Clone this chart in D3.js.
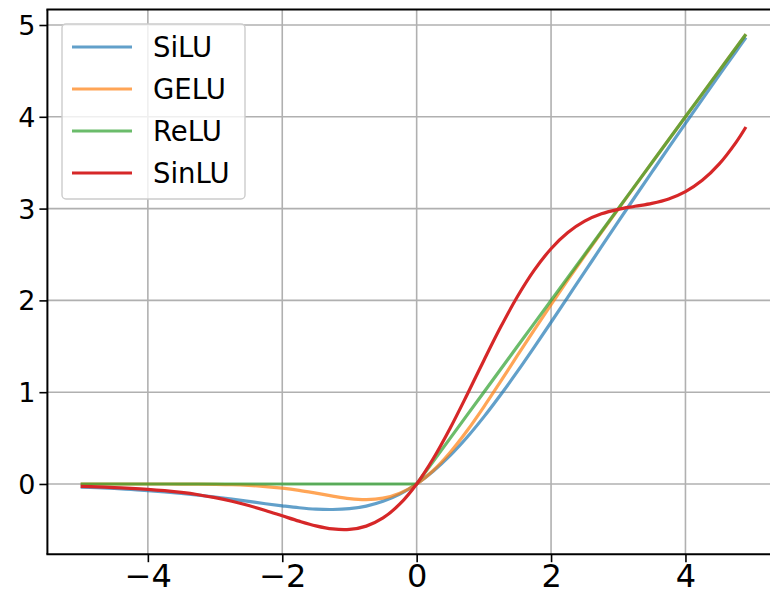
<!DOCTYPE html>
<html>
<head>
<meta charset="utf-8">
<script src="https://cdn.jsdelivr.net/npm/d3@7"></script>
<style>
  html, body { margin: 0; padding: 0; background: #ffffff; }
  svg { display: block; font-family: "DejaVu Sans", sans-serif; }
</style>
</head>
<body>
<svg id="chart" width="770" height="594"></svg>
<script>
// Sample positions along the input axis
const xs = [
  -5, -4.75, -4.5, -4.25, -4, -3.75, -3.5, -3.25, -3, -2.75, -2.5, -2.25, -2, -1.75,
  -1.5, -1.25, -1, -0.75, -0.5, -0.25, 0, 0.25, 0.5, 0.75, 1, 1.25, 1.5, 1.75, 2,
  2.25, 2.5, 2.75, 3, 3.25, 3.5, 3.75, 4, 4.25, 4.5, 4.75, 4.9
];

const silu = [
  -0.034, -0.041, -0.049, -0.060, -0.072, -0.086, -0.103, -0.121, -0.142, -0.165,
  -0.190, -0.215, -0.238, -0.259, -0.274, -0.278, -0.269, -0.241, -0.189, -0.110,
  0, 0.141, 0.311, 0.509, 0.731, 0.972, 1.226, 1.491, 1.762, 2.036, 2.310, 2.585,
  2.858, 3.129, 3.397, 3.664, 3.928, 4.190, 4.451, 4.709, 4.864
];

const gelu = [
  0, 0, 0, 0, -0.0001, -0.0003, -0.0008, -0.0019, -0.004, -0.008,
  -0.016, -0.028, -0.046, -0.070, -0.100, -0.132, -0.159, -0.170, -0.154, -0.100,
  0, 0.150, 0.346, 0.580, 0.841, 1.118, 1.400, 1.680, 1.955, 2.223, 2.485, 2.742,
  2.996, 3.248, 3.499, 3.750, 4.000, 4.250, 4.500, 4.750, 4.900
];

const relu = [
  0, 0, 0, 0, 0, 0, 0, 0, 0, 0, 0, 0, 0, 0, 0, 0, 0, 0, 0, 0,
  0, 0.25, 0.5, 0.75, 1, 1.25, 1.5, 1.75, 2, 2.25, 2.5, 2.75, 3, 3.25, 3.5, 3.75,
  4, 4.25, 4.5, 4.75, 4.9
];

const sinlu = [
  -0.027, -0.032, -0.039, -0.047, -0.058, -0.073, -0.092, -0.117, -0.149, -0.188,
  -0.235, -0.289, -0.347, -0.405, -0.456, -0.490, -0.495, -0.459, -0.370, -0.218,
  0, 0.280, 0.610, 0.972, 1.346, 1.709, 2.042, 2.329, 2.563, 2.739, 2.863, 2.943,
  2.992, 3.025, 3.057, 3.105, 3.185, 3.308, 3.484, 3.719, 3.889
];

const seriesNames = ["SiLU", "GELU", "ReLU", "SinLU"];
const seriesValues = [silu, gelu, relu, sinlu];
const seriesColors = ["#1f77b4", "#ff7f0e", "#2ca02c", "#d62728"];
const seriesOpacity = [0.7, 0.7, 0.7, 1];
const seriesSmooth = [true, true, false, true];

const xTicks = [-4, -2, 0, 2, 4];
const yTicks = [0, 1, 2, 3, 4, 5];

const svg = d3.select("#chart");
const plotLeft = 47.4, plotRight = 779.2, plotTop = 9.4, plotBottom = 554.2;

const x = d3.scaleLinear().domain([-5.495, 5.395]).range([plotLeft, plotRight]);
const y = d3.scaleLinear().domain([-0.765, 5.17]).range([plotBottom, plotTop]);

const fmt = d => (d < 0 ? "\u2212" + Math.abs(d) : String(d));

// grid
const grid = svg.append("g").attr("stroke", "#b0b0b0").attr("stroke-width", 1.6);
grid.selectAll("line.gx").data(xTicks).join("line").attr("class", "gx")
  .attr("x1", d => x(d)).attr("x2", d => x(d))
  .attr("y1", plotTop).attr("y2", plotBottom);
grid.selectAll("line.gy").data(yTicks).join("line").attr("class", "gy")
  .attr("x1", plotLeft).attr("x2", plotRight)
  .attr("y1", d => y(d)).attr("y2", d => y(d));

// curves
const lines = svg.append("g").attr("fill", "none").attr("stroke-width", 3.2)
  .attr("stroke-linejoin", "round").attr("stroke-linecap", "butt");
seriesValues.forEach((vals, i) => {
  const gen = d3.line()
    .x((d, j) => x(xs[j]))
    .y(d => y(d))
    .curve(seriesSmooth[i] ? d3.curveCatmullRom.alpha(0.5) : d3.curveLinear);
  lines.append("path")
    .attr("d", gen(vals))
    .attr("stroke", seriesColors[i])
    .attr("stroke-opacity", seriesOpacity[i]);
});

// axes
const xAxis = svg.append("g").attr("transform", `translate(0,${plotBottom})`)
  .call(d3.axisBottom(x).tickValues(xTicks).tickFormat(fmt).tickSize(8).tickPadding(4));
const yAxis = svg.append("g").attr("transform", `translate(${plotLeft},0)`)
  .call(d3.axisLeft(y).tickValues(yTicks).tickFormat(fmt).tickSize(8).tickPadding(4));

[xAxis, yAxis].forEach(a => {
  a.select(".domain").remove();
  a.selectAll(".tick line").attr("stroke", "#000").attr("stroke-width", 1.6);
  a.selectAll(".tick text").attr("fill", "#000").attr("font-family", "DejaVu Sans");
});
xAxis.selectAll(".tick text").attr("font-size", 32).attr("dy", null).attr("y", 33);
yAxis.selectAll(".tick text").attr("font-size", 27).attr("dy", "0.35em").attr("x", -12);

// spines (right edge falls outside the canvas)
const spines = svg.append("g").attr("stroke", "#000").attr("stroke-width", 2)
  .attr("fill", "none");
spines.append("line").attr("x1", plotLeft).attr("x2", plotLeft).attr("y1", plotTop).attr("y2", plotBottom);
spines.append("line").attr("x1", plotLeft - 1).attr("x2", plotRight).attr("y1", plotBottom).attr("y2", plotBottom);
spines.append("line").attr("x1", plotLeft - 1).attr("x2", plotRight).attr("y1", plotTop).attr("y2", plotTop);
spines.append("line").attr("x1", plotRight).attr("x2", plotRight).attr("y1", plotTop).attr("y2", plotBottom);

// legend
const legend = svg.append("g");
legend.append("rect")
  .attr("x", 62).attr("y", 24).attr("width", 183).attr("height", 175)
  .attr("rx", 4).attr("fill", "#ffffff").attr("fill-opacity", 0.8)
  .attr("stroke", "#cccccc").attr("stroke-width", 1.4);
seriesNames.forEach((name, i) => {
  const ly = 47 + i * 42;
  legend.append("line")
    .attr("x1", 72).attr("x2", 132).attr("y1", ly).attr("y2", ly)
    .attr("stroke", seriesColors[i]).attr("stroke-opacity", seriesOpacity[i])
    .attr("stroke-width", 3.2);
  legend.append("text")
    .attr("x", 153).attr("y", ly).attr("dy", "0.36em")
    .attr("font-size", 27.5).attr("fill", "#000")
    .text(name);
});
</script>
</body>
</html>
